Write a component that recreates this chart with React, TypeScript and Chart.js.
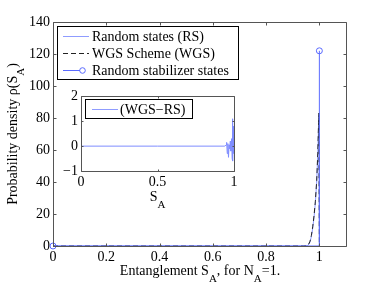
import { useEffect, useRef } from "react";
import { Chart, registerables } from "chart.js";

Chart.register(...registerables);

// ---------- data ----------
const xTicks = [0, 0.2, 0.4, 0.6, 0.8, 1];
const yTicks = [0, 20, 40, 60, 80, 100, 120, 140];
const insetXTicks = [0, 0.5, 1];
const insetYTicks = [-1, 0, 1, 2];

const rsX = [0, 0.5, 0.94, 0.95, 0.955, 0.96, 0.965, 0.97, 0.975, 0.98, 0.985, 0.99, 0.994, 0.997, 0.998, 1.0];
const rsY = [0, 0, 0, 0.1, 0.3, 1, 2.5, 6, 11, 18, 27, 40, 57, 76, 82, 0];

const wgsX = [0, 0.5, 0.94, 0.95, 0.955, 0.96, 0.965, 0.97, 0.975, 0.98, 0.985, 0.99, 0.994, 0.997, 0.998, 1.0];
const wgsY = [0, 0, 0, 0.1, 0.4, 1.2, 3, 6.5, 12, 19, 28, 41, 58, 77, 83, 0];

const stabX = [0, 1, 1];
const stabY = [0, 0, 122];

const diffX = [0, 0.5, 0.94, 0.948, 0.952, 0.956, 0.96, 0.964, 0.968, 0.972, 0.976, 0.98, 0.984, 0.988, 0.99, 0.992, 0.994, 0.996, 0.998, 1];
const diffY = [0, 0, 0, 0.05, 0.15, -0.3, 0.1, -0.45, 0.05, -0.1, 0.2, -0.2, 0.3, -0.5, 1.1, -0.6, 0.8, -0.3, 0.4, 0];

const legendLabels = ["Random states (RS)", "WGS Scheme (WGS)", "Random stabilizer states"];
const insetLegendLabel = "(WGS\u2212RS)";

// ---------- styles ----------
const FONT = '"Liberation Serif", "Times New Roman", serif';
const RS_COLOR = "#8f9cff";
const STAB_COLOR = "#5b6bff";
const DIFF_COLOR = "#7f8dff";
const AXIS_COLOR = "#555555";

const zip = (xs: number[], ys: number[]) => xs.map((x, i) => ({ x, y: ys[i] }));

type Part = [string, boolean];

function drawRich(ctx: CanvasRenderingContext2D, parts: Part[], cx: number, y: number) {
  const main = `14px ${FONT}`;
  const sub = `11px ${FONT}`;
  let total = 0;
  for (const [t, s] of parts) {
    ctx.font = s ? sub : main;
    total += ctx.measureText(t).width;
  }
  let x = cx - total / 2;
  ctx.textAlign = "left";
  ctx.textBaseline = "alphabetic";
  ctx.fillStyle = "#000";
  for (const [t, s] of parts) {
    ctx.font = s ? sub : main;
    ctx.fillText(t, x, s ? y + 7 : y);
    x += ctx.measureText(t).width;
  }
}

function drawBoxAndTicks(chart: any, xt: number[], yt: number[], tl: number) {
  const ctx: CanvasRenderingContext2D = chart.ctx;
  const { left, right, top, bottom } = chart.chartArea;
  const xs = chart.scales.x;
  const ys = chart.scales.y;
  ctx.save();
  ctx.strokeStyle = AXIS_COLOR;
  ctx.lineWidth = 1;
  ctx.beginPath();
  const L = Math.round(left) + 0.5;
  const R = Math.round(right) + 0.5;
  const T = Math.round(top) + 0.5;
  const B = Math.round(bottom) + 0.5;
  ctx.rect(L, T, R - L, B - T);
  for (const v of xt) {
    const px = Math.round(xs.getPixelForValue(v)) + 0.5;
    ctx.moveTo(px, B);
    ctx.lineTo(px, B - tl);
    ctx.moveTo(px, T);
    ctx.lineTo(px, T + tl);
  }
  for (const v of yt) {
    const py = Math.round(ys.getPixelForValue(v)) + 0.5;
    ctx.moveTo(L, py);
    ctx.lineTo(L + tl, py);
    ctx.moveTo(R, py);
    ctx.lineTo(R - tl, py);
  }
  ctx.stroke();
  ctx.restore();
}

const mainPlugin = {
  id: "mainDecor",
  afterDraw(chart: any) {
    const ctx: CanvasRenderingContext2D = chart.ctx;
    drawBoxAndTicks(chart, xTicks, yTicks, 3);
    ctx.save();
    // legend
    const bx = 57.5, by = 26.5, bw = 181, bh = 53;
    ctx.fillStyle = "#fff";
    ctx.fillRect(bx, by, bw, bh);
    ctx.strokeStyle = "#000";
    ctx.lineWidth = 1;
    ctx.strokeRect(bx, by, bw, bh);
    const rows = [36, 53, 70];
    // RS
    ctx.strokeStyle = RS_COLOR;
    ctx.beginPath();
    ctx.moveTo(63, rows[0] + 0.5);
    ctx.lineTo(89, rows[0] + 0.5);
    ctx.stroke();
    // WGS dashed
    ctx.strokeStyle = "#222";
    ctx.setLineDash([5, 3]);
    ctx.beginPath();
    ctx.moveTo(63, rows[1] + 0.5);
    ctx.lineTo(89, rows[1] + 0.5);
    ctx.stroke();
    ctx.setLineDash([]);
    // stabilizer
    ctx.strokeStyle = STAB_COLOR;
    ctx.beginPath();
    ctx.moveTo(63, rows[2] + 0.5);
    ctx.lineTo(80, rows[2] + 0.5);
    ctx.stroke();
    ctx.beginPath();
    ctx.arc(82.5, rows[2] + 0.5, 2.8, 0, Math.PI * 2);
    ctx.stroke();
    ctx.fillStyle = "#000";
    ctx.font = `14px ${FONT}`;
    ctx.textAlign = "left";
    ctx.textBaseline = "middle";
    legendLabels.forEach((t, i) => ctx.fillText(t, 92, rows[i] + 1));
    ctx.restore();

    // x title
    ctx.save();
    drawRich(ctx, [["Entanglement S", false], ["A", true], [", for N", false], ["A", true], ["=1.", false]], 200, 275);
    ctx.restore();
    // y title
    ctx.save();
    ctx.translate(17, 134);
    ctx.rotate(-Math.PI / 2);
    drawRich(ctx, [["Probability density \u03c1(S", false], ["A", true], [")", false]], 0, 0);
    ctx.restore();
  },
};

const insetPlugin = {
  id: "insetDecor",
  beforeDatasetsDraw(chart: any) {
    const ctx: CanvasRenderingContext2D = chart.ctx;
    const { left, right, top, bottom } = chart.chartArea;
    ctx.save();
    ctx.fillStyle = "#fff";
    ctx.fillRect(left, top, right - left, bottom - top);
    ctx.restore();
  },
  afterDraw(chart: any) {
    const ctx: CanvasRenderingContext2D = chart.ctx;
    drawBoxAndTicks(chart, insetXTicks, insetYTicks, 2);
    ctx.save();
    // legend (canvas offset: left 50, top 85)
    const bx = 35.5, by = 14.5, bw = 107, bh = 19;
    ctx.fillStyle = "#fff";
    ctx.fillRect(bx, by, bw, bh);
    ctx.strokeStyle = "#000";
    ctx.lineWidth = 1;
    ctx.strokeRect(bx, by, bw, bh);
    ctx.strokeStyle = RS_COLOR;
    ctx.beginPath();
    ctx.moveTo(42, 24.5);
    ctx.lineTo(68, 24.5);
    ctx.stroke();
    ctx.fillStyle = "#000";
    ctx.font = `14px ${FONT}`;
    ctx.textAlign = "left";
    ctx.textBaseline = "middle";
    ctx.fillText(insetLegendLabel, 70, 25);
    ctx.restore();
    ctx.save();
    drawRich(ctx, [["S", false], ["A", true]], 107.5, 116);
    ctx.restore();
  },
};

const tickFont = { family: FONT, size: 14 };
const fmt = (v: number) => (v < 0 ? "\u2212" + Math.abs(v) : String(v));

export default function App() {
  const mainRef = useRef<HTMLCanvasElement>(null);
  const insetRef = useRef<HTMLCanvasElement>(null);

  useEffect(() => {
    const main = new Chart(mainRef.current!, {
      type: "scatter",
      data: {
        datasets: [
          {
            data: zip(stabX, stabY),
            showLine: true,
            borderColor: STAB_COLOR,
            backgroundColor: "rgba(0,0,0,0)",
            borderWidth: 1,
            pointRadius: [3, 0, 3],
            pointBorderColor: STAB_COLOR,
            pointBorderWidth: 1,
            pointBackgroundColor: "rgba(0,0,0,0)",
            clip: false,
            order: 0,
          } as any,
          {
            data: zip(wgsX, wgsY),
            showLine: true,
            borderColor: "#222",
            borderDash: [5, 3],
            borderWidth: 1,
            pointRadius: 0,
            order: 1,
          },
          {
            data: zip(rsX, rsY),
            showLine: true,
            borderColor: RS_COLOR,
            borderWidth: 1,
            pointRadius: 0,
            order: 2,
          },
        ],
      },
      options: {
        animation: false,
        responsive: false,
        devicePixelRatio: 1,
        layout: { padding: { left: 0, top: 22, right: 36, bottom: 0 } },
        plugins: { legend: { display: false }, tooltip: { enabled: false } },
        scales: {
          x: {
            type: "linear",
            min: 0,
            max: 1.1,
            afterBuildTicks: (s: any) => {
              s.ticks = xTicks.map((v) => ({ value: v }));
            },
            afterFit: (s: any) => {
              s.height = 41;
            },
            grid: { display: false, drawTicks: false },
            border: { display: false },
            ticks: { font: tickFont, color: "#000", padding: 3, maxRotation: 0, autoSkip: false, callback: (v: any) => fmt(Number(v)) },
          },
          y: {
            type: "linear",
            min: 0,
            max: 140,
            afterBuildTicks: (s: any) => {
              s.ticks = yTicks.map((v) => ({ value: v }));
            },
            afterFit: (s: any) => {
              s.width = 53;
            },
            grid: { display: false, drawTicks: false },
            border: { display: false },
            ticks: { font: tickFont, color: "#000", padding: 3, autoSkip: false, callback: (v: any) => fmt(Number(v)) },
          },
        },
      },
      plugins: [mainPlugin],
    });

    const inset = new Chart(insetRef.current!, {
      type: "scatter",
      data: {
        datasets: [
          {
            data: zip(diffX, diffY),
            showLine: true,
            borderColor: DIFF_COLOR,
            borderWidth: 1,
            pointRadius: 0,
          },
        ],
      },
      options: {
        animation: false,
        responsive: false,
        devicePixelRatio: 1,
        layout: { padding: { left: 0, top: 10, right: 11, bottom: 0 } },
        plugins: { legend: { display: false }, tooltip: { enabled: false } },
        scales: {
          x: {
            type: "linear",
            min: 0,
            max: 1,
            afterBuildTicks: (s: any) => {
              s.ticks = insetXTicks.map((v) => ({ value: v }));
            },
            afterFit: (s: any) => {
              s.height = 39;
            },
            grid: { display: false, drawTicks: false },
            border: { display: false },
            ticks: { font: tickFont, color: "#000", padding: 3, maxRotation: 0, autoSkip: false, callback: (v: any) => fmt(Number(v)) },
          },
          y: {
            type: "linear",
            min: -1,
            max: 2,
            afterBuildTicks: (s: any) => {
              s.ticks = insetYTicks.map((v) => ({ value: v }));
            },
            afterFit: (s: any) => {
              s.width = 31;
            },
            grid: { display: false, drawTicks: false },
            border: { display: false },
            ticks: { font: tickFont, color: "#000", padding: 3, autoSkip: false, callback: (v: any) => fmt(Number(v)) },
          },
        },
      },
      plugins: [insetPlugin],
    });

    return () => {
      main.destroy();
      inset.destroy();
    };
  }, []);

  return (
    <div style={{ position: "fixed", left: 0, top: 0, width: 382, height: 287, background: "#fff" }}>
      <canvas ref={mainRef} width={382} height={287} style={{ position: "absolute", left: 0, top: 0, width: 382, height: 287 }} />
      <canvas ref={insetRef} width={195} height={125} style={{ position: "absolute", left: 50, top: 85, width: 195, height: 125 }} />
    </div>
  );
}
